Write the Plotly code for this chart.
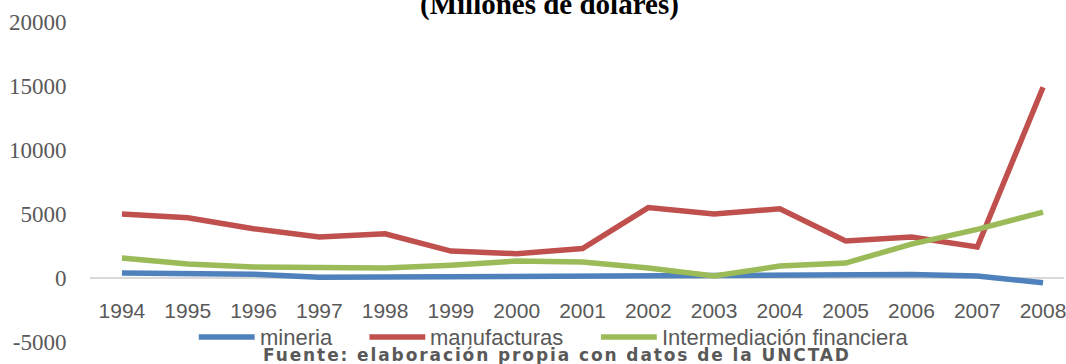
import plotly.graph_objects as go

# Inversión extranjera directa por sector, 1994-2008 (millones de dólares)
years = [1994, 1995, 1996, 1997, 1998, 1999, 2000, 2001,
         2002, 2003, 2004, 2005, 2006, 2007, 2008]

mineria = [400, 350, 300, 50, 80, 80, 60, 150,
           180, 150, 180, 200, 280, 150, -380]
manufacturas = [5000, 4700, 3850, 3200, 3450, 2100, 1900, 2300,
                5500, 5000, 5400, 2900, 3200, 2420, 14900]
intermediacion = [1560, 1100, 860, 780, 780, 1000, 1330, 1250,
                  780, 150, 940, 1170, 2650, 3800, 5150]

series_names = ["mineria", "manufacturas", "Intermediación financiera"]
series_values = [mineria, manufacturas, intermediacion]
series_colors = ["#4F81BD", "#C0504D", "#9BBB59"]

y_ticks = [-5000, 0, 5000, 10000, 15000, 20000]
y_ticktext = ["-5000", "0", "5000", "10000", "15000", "20000"]

W, H = 1066, 364
ML, MR, MT, MB = 90, 0, 22, 22
PW, PH = W - ML - MR, H - MT - MB


def px_x(p):
    return (p - ML) / PW


def px_y(p):
    return (H - MB - p) / PH


fig = go.Figure()
for name, vals, col in zip(series_names, series_values, series_colors):
    fig.add_trace(go.Scatter(
        x=years, y=vals, name=name, mode="lines",
        line=dict(color=col, width=5.5),
        showlegend=False,
    ))

# legend row: swatch line + label per series
legend_y = px_y(337)
swatches = [(199, 255), (370, 426), (602, 658)]
for (x0, x1), name, col in zip(swatches, series_names, series_colors):
    fig.add_shape(type="line", xref="paper", yref="paper",
                  x0=px_x(x0), x1=px_x(x1), y0=legend_y, y1=legend_y,
                  line=dict(color=col, width=5.5))
    fig.add_annotation(xref="paper", yref="paper", x=px_x(x1 + 3), y=legend_y,
                       xanchor="left", yanchor="middle", showarrow=False,
                       text=name,
                       font=dict(family="Liberation Sans", size=22, color="#595959"))

# chart subtitle
fig.add_annotation(xref="paper", yref="paper", x=px_x(550), y=px_y(5),
                   xanchor="center", yanchor="middle", showarrow=False,
                   text="<b>(Millones de dolares)</b>",
                   font=dict(family="Liberation Serif", size=29, color="#000000"))

# source note
fig.add_annotation(xref="paper", yref="paper", x=px_x(558), y=px_y(355),
                   xanchor="center", yanchor="middle", showarrow=False,
                   text='<b><span style="letter-spacing:1.9px">Fuente: elaboración propia con datos de la UNCTAD</span></b>',
                   font=dict(family="DejaVu Sans", size=17, color="#595959"))

step = (1045 - 122) / 14
x_start = 1994 - (122 - ML) / step
x_end = x_start + PW / step

fig.update_layout(
    width=W, height=H,
    margin=dict(l=ML, r=MR, t=MT, b=MB, pad=0),
    paper_bgcolor="white", plot_bgcolor="white",
    xaxis=dict(
        range=[x_start, x_end],
        tickvals=years, ticktext=[str(y) for y in years],
        ticklabeloverflow="allow",
        anchor="free", position=px_y(278),
        showgrid=False, showline=False, zeroline=False,
        ticks="outside", ticklen=14, tickcolor="rgba(0,0,0,0)",
        tickfont=dict(family="Liberation Sans", size=21, color="#595959"),
    ),
    yaxis=dict(
        range=[-5000, 20000], tickvals=y_ticks, ticktext=y_ticktext,
        showgrid=False, showline=False,
        zeroline=True, zerolinecolor="#D9D9D9", zerolinewidth=2,
        ticks="outside", ticklen=18, tickcolor="rgba(0,0,0,0)",
        tickfont=dict(family="Liberation Serif", size=23, color="#595959"),
    ),
)

fig.write_html("out.html")
